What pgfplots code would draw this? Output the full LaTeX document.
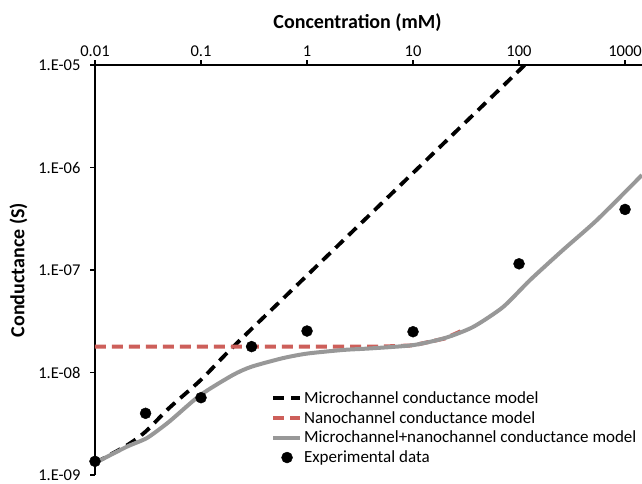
\documentclass[border=0pt]{standalone}
\usepackage{fontspec}
\setmainfont{Carlito}
\usepackage{pgfplots}
\pgfplotsset{compat=1.18}
\definecolor{nanored}{RGB}{205,95,90}
\definecolor{combgray}{RGB}{152,152,152}
\begin{document}
\begin{tikzpicture}[x=1pt,y=1pt]
\useasboundingbox (-95,-8) rectangle (547,475);
\begin{axis}[
  at={(0,0)}, anchor=south west,
  scale only axis, width=547pt, height=410pt,
  xmode=log, ymode=log,
  xmin=0.01, xmax=1445, ymin=1e-9, ymax=1e-5,
  axis x line=top, axis y line=left,
  axis line style={-, line width=1.3pt},
  xtick={0.01,0.1,1,10,100,1000},
  xticklabels={0.01,0.1,1,10,100,1000},
  ytick={1e-9,1e-8,1e-7,1e-6,1e-5},
  yticklabels={1.E-09,1.E-08,1.E-07,1.E-06,1.E-05},
  xminorticks=false, yminorticks=false,
  tick align=outside, major tick length=5pt,
  tick style={line width=1.3pt, black},
  ticklabel style={font=\fontsize{16.5}{19}\selectfont},
  yticklabel style={xshift=-6pt},
  xlabel={Concentration (mM)},
  ylabel={Conductance (S)},
  every axis x label/.style={at={(axis description cs:0.48,1)}, yshift=42.5pt, anchor=center},
  every axis y label/.style={at={(axis description cs:0,0.5)}, xshift=-76.5pt, rotate=90, anchor=center},
  label style={font=\bfseries\fontsize{20}{24}\selectfont},
  legend style={at={(0.316,0.214)}, anchor=north west, draw=none, fill=none,
    font=\fontsize{17}{20}\selectfont, row sep=2.5pt},
  legend cell align=left,
  legend image code/.code={\draw[#1] (0pt,0pt) -- (27pt,0pt);},
]
\addplot[black, line width=3.8pt, dash pattern=on 11pt off 7pt, smooth, tension=0.5] coordinates {
(0.01,1.31e-9) (0.02,1.95e-9) (0.03,2.65e-9) (0.05,4.5e-9) (0.1,8.5e-9)
(0.2,1.77e-8) (1,8.85e-8) (10,8.85e-7) (120,1.06e-5)};
\addlegendentry{Microchannel conductance model}
\addplot[nanored, line width=4pt, dash pattern=on 11pt off 6pt] coordinates {
(0.01,1.79e-8) (5,1.79e-8) (10,1.84e-8) (20,2.15e-8) (30,2.6e-8)};
\addlegendentry{Nanochannel conductance model}
\addplot[combgray, line width=4pt, smooth, tension=0.4] coordinates {
(0.01,1.31e-9) (0.02,1.89e-9) (0.031,2.3e-9) (0.05,3.31e-9) (0.098,6.0e-9)
(0.2,9.46e-9) (0.3,1.14e-8) (0.59,1.38e-8) (1,1.53e-8) (2.19,1.66e-8) (4,1.72e-8)
(10,1.85e-8) (20,2.17e-8) (36.8,2.78e-8) (70.6,4.35e-8) (127,7.98e-8)
(260,1.57e-7) (544,3.08e-7) (1445,8.45e-7)};
\addlegendentry{Microchannel+nanochannel conductance model}
\addplot[only marks, mark=*, mark size=5.5pt, black,
  legend image code/.code={\fill[black] (14pt,0pt) circle (5.5pt);}] coordinates {
(0.01,1.36e-9) (0.03,4.0e-9) (0.1,5.68e-9) (0.3,1.79e-8) (1,2.54e-8)
(10,2.5e-8) (100,1.15e-7) (1000,3.9e-7)};
\addlegendentry{Experimental data}
\end{axis}
\end{tikzpicture}
\end{document}
